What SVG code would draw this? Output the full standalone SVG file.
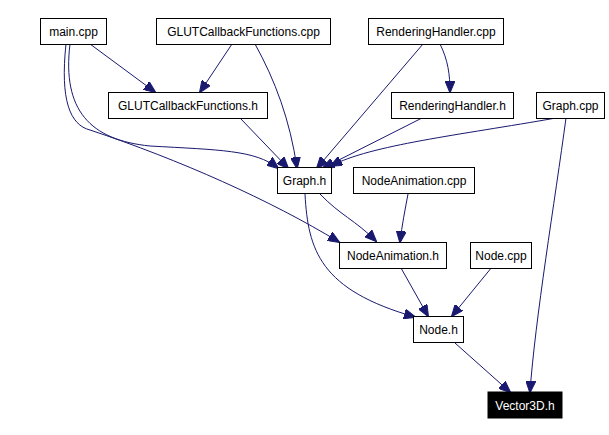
<svg xmlns="http://www.w3.org/2000/svg" width="609" height="435" viewBox="0 0 609 435">
<style>
.n rect{fill:#fff;stroke:#000;stroke-width:1}
.n text{font-family:"Liberation Sans",Arial,sans-serif;font-size:12px;text-anchor:middle;fill:#000}
#vector3d rect{fill:#000}
#vector3d text{fill:#fff}
.e path{fill:none;stroke:#191970;stroke-width:1;marker-end:url(#a)}
</style>
<defs>
<marker id="a" markerUnits="userSpaceOnUse" markerWidth="12" markerHeight="10" refX="11" refY="5" orient="auto" viewBox="0 0 12 10">
<path d="M0,0 L12,5 L0,10 Z" fill="#191970" stroke="#191970"/>
</marker>
</defs>
<rect width="609" height="435" fill="#fff"/>
<g class="e">
<path d="M90,44 L155,92"/>
<path d="M70,44 C62,110 90,140 150,146 C220,150 255,150 278,168"/>
<path d="M66,44 C60,100 70,125 90,130 C180,160 270,200 339,242"/>
<path d="M232,44 L200,92"/>
<path d="M255,44 C275,80 290,120 297,168"/>
<path d="M240,118 L288,168"/>
<path d="M440,44 C448,60 450,75 450,92"/>
<path d="M423,44 L317,168"/>
<path d="M422,118 L323,168"/>
<path d="M556,118 C460,135 370,145 331,166"/>
<path d="M566,118 C555,200 535,320 530,392"/>
<path d="M320,194 C340,215 355,220 376,241"/>
<path d="M305,194 C308,250 320,290 415,317"/>
<path d="M408,194 C405,210 402,225 400,242"/>
<path d="M401,268 L428,316"/>
<path d="M492,267 L452,316"/>
<path d="M455,343 L510,392"/>
</g>
<g class="n" id="main_cpp"><rect x="40.500" y="18.500" width="66" height="26"/><text x="73.500" y="36">main.cpp</text></g>
<g class="n" id="glut_cpp"><rect x="156.500" y="18.500" width="174" height="26"/><text x="243.500" y="36">GLUTCallbackFunctions.cpp</text></g>
<g class="n" id="render_cpp"><rect x="368.500" y="18.500" width="135" height="26"/><text x="436" y="36">RenderingHandler.cpp</text></g>
<g class="n" id="glut_h"><rect x="108.500" y="92.500" width="159" height="26"/><text x="188" y="110">GLUTCallbackFunctions.h</text></g>
<g class="n" id="render_h"><rect x="391.500" y="92.500" width="122" height="26"/><text x="452.500" y="110">RenderingHandler.h</text></g>
<g class="n" id="graph_cpp"><rect x="536.500" y="92.500" width="68" height="26"/><text x="570.500" y="110">Graph.cpp</text></g>
<g class="n" id="graph_h"><rect x="277.500" y="167.500" width="54" height="26"/><text x="304.500" y="185">Graph.h</text></g>
<g class="n" id="nodeanim_cpp"><rect x="353.500" y="167.500" width="121" height="26"/><text x="414" y="185">NodeAnimation.cpp</text></g>
<g class="n" id="nodeanim_h"><rect x="339.500" y="242.500" width="107" height="26"/><text x="393" y="260">NodeAnimation.h</text></g>
<g class="n" id="node_cpp"><rect x="470.500" y="242.500" width="61" height="26"/><text x="501" y="260">Node.cpp</text></g>
<g class="n" id="node_h"><rect x="413.500" y="316.500" width="50" height="26"/><text x="438.500" y="334">Node.h</text></g>
<g class="n" id="vector3d"><rect x="488" y="392" width="74" height="26"/><text x="525" y="410">Vector3D.h</text></g>
</svg>
